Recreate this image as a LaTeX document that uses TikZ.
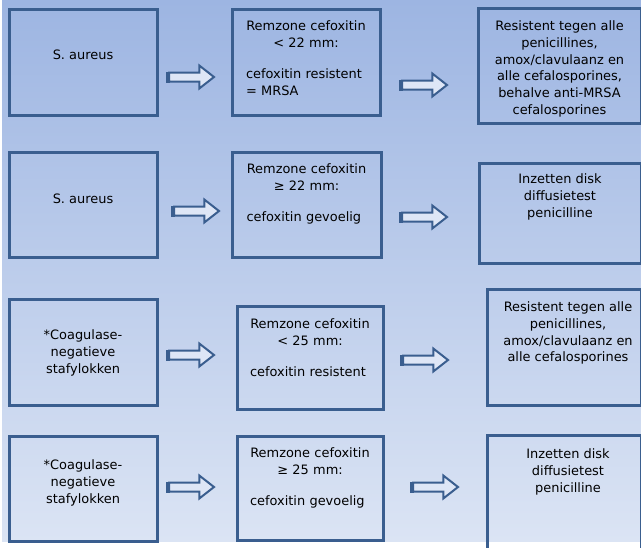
\documentclass[tikz,border=0pt]{standalone}
\usepackage{fontspec}
\newfontfamily\tekstfont{DejaVu Sans}
\usetikzlibrary{shapes.arrows}

\definecolor{rand}{RGB}{58,94,143}
\definecolor{bgboven}{RGB}{157,181,226}
\definecolor{bgonder}{RGB}{219,228,244}
\definecolor{pijlvul}{RGB}{222,230,246}

\def\pxl{0.75pt}

\tikzset{
	vak/.style={draw=rand, line width=2.25pt, inner sep=0pt},
	tekst/.style={font=\tekstfont\fontsize{9.7}{12.5}\selectfont, inner sep=0pt, anchor=north, yshift=-2.25pt},
	pijl/.style={single arrow, draw=rand, fill=pijlvul, line width=1.5pt, anchor=tail,
		inner xsep=0pt, inner ysep=3.5*\pxl, minimum height=45*\pxl,
		single arrow head extend=7*\pxl, single arrow tip angle=76}
}

\begin{document}
\begin{tikzpicture}[x=0.75pt,y=-0.75pt]
	\def\aw{148}
	\def\ah{106}
	\def\links{7.5pt}
	
	\useasboundingbox (0,0) rectangle (641,547);
	\clip (0,0) rectangle (641,547);
	\shade[top color=bgboven, bottom color=bgonder] (2,0) rectangle (641,541); % achtergrond
	
	% Rij 1: S. aureus, resistent
	\node[vak, minimum width=\aw*\pxl, minimum height=\ah*\pxl] (s1) at (83,62) {};
	\node[vak, minimum width=148*\pxl, minimum height=106*\pxl] (z1) at (306,62) {};
	\node[vak, minimum width=163*\pxl, minimum height=115*\pxl] (a1) at (559.5,65.5) {};
	\node[tekst, align=center] (s1t) at (83,46.7) {S. aureus};
	\node[tekst, text width=140*\pxl] (z1t) at (306,17.7) {\centering Remzone cefoxitin\par < 22 mm:\par\vspace{11pt}\raggedright\leftskip=\links cefoxitin resistent\par = MRSA\par};
	\node[tekst, align=center] (a1t) at (559.5,17.7) {Resistent tegen alle\\penicillines,\\amox/clavulaanz en\\alle cefalosporines,\\behalve anti-MRSA\\cefalosporines};
	\node[pijl] (p1a) at (168,77) {};
	\node[pijl] (p1b) at (401,85) {};
	
	% Rij 2: S. aureus, gevoelig
	\node[vak, minimum width=\aw*\pxl, minimum height=105*\pxl] (s2) at (83,204.5) {};
	\node[vak, minimum width=149*\pxl, minimum height=105*\pxl] (z2) at (306.5,204.5) {};
	\node[vak, minimum width=162*\pxl, minimum height=100*\pxl] (a2) at (560,213) {};
	\node[tekst, align=center] (s2t) at (83,190.7) {S. aureus};
	\node[tekst, text width=140*\pxl] (z2t) at (306.5,160.7) {\centering Remzone cefoxitin\par ≥ 22 mm:\par\vspace{11pt}\raggedright\leftskip=\links cefoxitin gevoelig\par};
	\node[tekst, align=center] (a2t) at (560,170.7) {Inzetten disk\\diffusietest\\penicilline};
	\node[pijl] (p2a) at (173,211) {};
	\node[pijl] (p2b) at (401,217) {};
	
	% Rij 3: CNS, resistent
	\node[vak, minimum width=\aw*\pxl, minimum height=\ah*\pxl] (s3) at (83,352) {};
	\node[vak, minimum width=146*\pxl, minimum height=103*\pxl] (z3) at (310,357.5) {};
	\node[vak, minimum width=154*\pxl, minimum height=116*\pxl] (a3) at (564,347) {};
	\node[tekst, align=center] (s3t) at (83,326.7) {*Coagulase-\\negatieve\\stafylokken};
	\node[tekst, text width=140*\pxl] (z3t) at (310,315.7) {\centering Remzone cefoxitin\par < 25 mm:\par\vspace{11pt}\raggedright\leftskip=\links cefoxitin resistent\par};
	\node[tekst, align=center] (a3t) at (568,298.7) {Resistent tegen alle\\penicillines,\\amox/clavulaanz en\\alle cefalosporines};
	\node[pijl] (p3a) at (168,355) {};
	\node[pijl] (p3b) at (402,360) {};
	
	% Rij 4: CNS, gevoelig
	\node[vak, minimum width=\aw*\pxl, minimum height=105*\pxl] (s4) at (83,488.5) {};
	\node[vak, minimum width=146*\pxl, minimum height=104*\pxl] (z4) at (310,488) {};
	\node[vak, minimum width=154*\pxl, minimum height=125*\pxl] (a4) at (564,497.5) {};
	\node[tekst, align=center] (s4t) at (83,456.7) {*Coagulase-\\negatieve\\stafylokken};
	\node[tekst, text width=140*\pxl] (z4t) at (310,444.7) {\centering Remzone cefoxitin\par ≥ 25 mm:\par\vspace{11pt}\raggedright\leftskip=\links cefoxitin gevoelig\par};
	\node[tekst, align=center] (a4t) at (568,445.7) {Inzetten disk\\diffusietest\\penicilline};
	\node[pijl] (p4a) at (168,487) {};
	\node[pijl] (p4b) at (412,487) {};
	
	% Dikke staart van de pijlen
	\foreach \p in {p1a,p1b,p2a,p2b,p3a,p3b,p4a,p4b}
		\draw[rand, line width=3pt] (\p.before tail) -- (\p.after tail);
\end{tikzpicture}
\end{document}
